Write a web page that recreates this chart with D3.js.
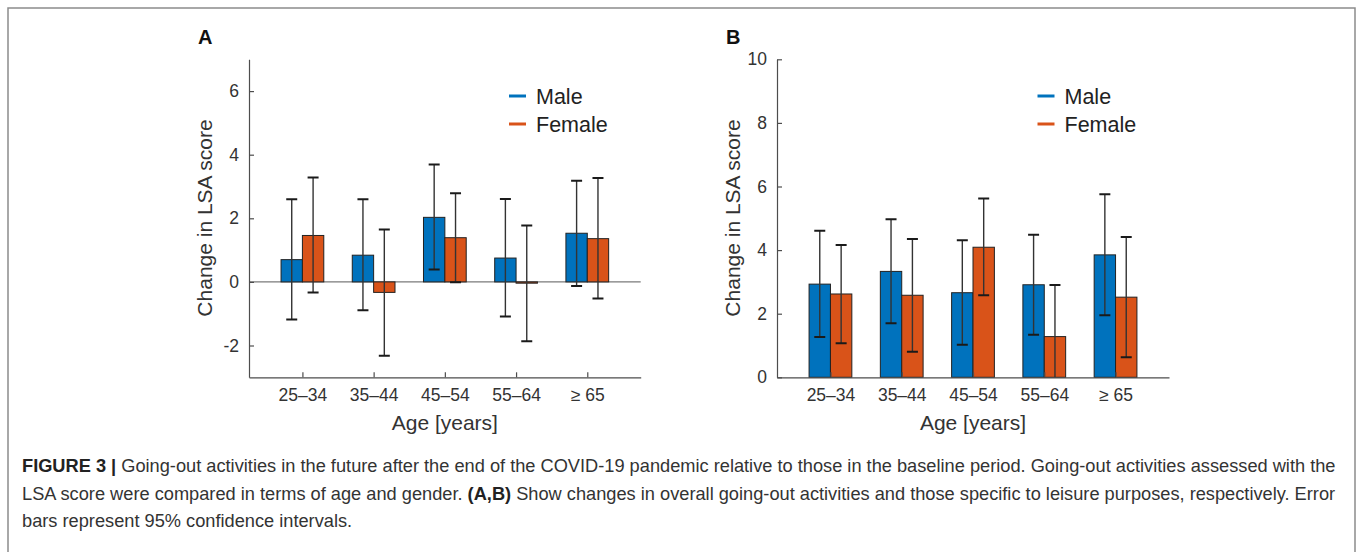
<!DOCTYPE html>
<html>
<head>
<meta charset="utf-8">
<script src="https://cdn.jsdelivr.net/npm/d3@7"></script>
<style>
  body { margin: 0; background: #fff; }
  svg text { font-family: "Liberation Sans", Arial, Helvetica, sans-serif; }
</style>
</head>
<body>
<svg id="fig" width="1357" height="552"></svg>
<script>
// age groups on the x axis
var ageGroups = ["25–34", "35–44", "45–54", "55–64", "≥ 65"];
var seriesNames = ["Male", "Female"];

// panel A: overall going-out activities
var maleA = [0.70, 0.84, 2.03, 0.75, 1.53];
var maleALow = [-1.18, -0.89, 0.39, -1.09, -0.13];
var maleAHigh = [2.60, 2.60, 3.69, 2.61, 3.18];
var femaleA = [1.46, -0.33, 1.39, -0.04, 1.36];
var femaleALow = [-0.33, -2.32, -0.01, -1.87, -0.52];
var femaleAHigh = [3.28, 1.65, 2.79, 1.77, 3.27];
var ticksA = [-2, 0, 2, 4, 6];

// panel B: leisure purposes
var maleB = [2.93, 3.33, 2.66, 2.91, 3.85];
var maleBLow = [1.27, 1.70, 1.02, 1.34, 1.95];
var maleBHigh = [4.61, 4.97, 4.31, 4.48, 5.76];
var femaleB = [2.62, 2.58, 4.09, 1.28, 2.52];
var femaleBLow = [1.07, 0.80, 2.58, -0.34, 0.63];
var femaleBHigh = [4.16, 4.35, 5.62, 2.90, 4.41];
var ticksB = [0, 2, 4, 6, 8, 10];

var colors = ["#0072bd", "#d95319"];
var svg = d3.select("#fig");

// outer frame of the figure
svg.append("path")
  .attr("d", "M8,552 L8,8 L1355,8 L1355,552")
  .attr("fill", "none").attr("stroke", "#8c8c8c").attr("stroke-width", 1.5);

function drawPanel(opt) {
  var x = d3.scaleLinear().domain([0.25, 5.75]).range([opt.left, opt.right]);
  var y = d3.scaleLinear().domain(opt.yDomain).range([377.3, 59.3]);
  var g = svg.append("g");

  var clipId = "clip" + opt.label;
  svg.append("clipPath").attr("id", clipId).append("rect")
    .attr("x", opt.left).attr("y", 59.3)
    .attr("width", opt.right - opt.left).attr("height", 377.3 - 59.3);

  // zero reference line
  if (opt.yDomain[0] < 0) {
    g.append("line")
      .attr("x1", x(0.25)).attr("x2", x(5.75))
      .attr("y1", y(0)).attr("y2", y(0))
      .attr("stroke", "#7a7a7a").attr("stroke-width", 1.2);
  }

  var bw = 0.3;
  var series = [
    {vals: opt.male, lo: opt.maleLow, hi: opt.maleHigh, off: -0.15, c: colors[0]},
    {vals: opt.female, lo: opt.femaleLow, hi: opt.femaleHigh, off: 0.15, c: colors[1]}
  ];

  series.forEach(function(s) {
    g.selectAll(null).data(s.vals).enter().append("rect")
      .attr("x", function(d, i) { return x(i + 1 + s.off - bw / 2); })
      .attr("width", x(bw) - x(0))
      .attr("y", function(d) { return y(Math.max(d, 0)); })
      .attr("height", function(d) { return Math.abs(y(d) - y(0)); })
      .attr("fill", s.c).attr("stroke", "#222").attr("stroke-width", 1);
  });

  series.forEach(function(s) {
    var eb = g.append("g").attr("clip-path", "url(#" + clipId + ")");
    var cap = 5.5;
    s.vals.forEach(function(d, i) {
      var cx = x(i + 1 + s.off);
      eb.append("line")
        .attr("x1", cx).attr("x2", cx)
        .attr("y1", y(s.lo[i])).attr("y2", y(s.hi[i]))
        .attr("stroke", "#333").attr("stroke-width", 1.4);
      [s.lo[i], s.hi[i]].forEach(function(v) {
        eb.append("line")
          .attr("x1", cx - cap).attr("x2", cx + cap)
          .attr("y1", y(v)).attr("y2", y(v))
          .attr("stroke", "#1a1a1a").attr("stroke-width", 2);
      });
    });
  });

  // axes, ticks pointing inward
  var xAxis = g.append("g")
    .attr("transform", "translate(0," + y(opt.yDomain[0]) + ")")
    .call(d3.axisBottom(x).tickValues([1, 2, 3, 4, 5])
      .tickFormat(function(d) { return ageGroups[d - 1]; })
      .tickSizeInner(-5).tickSizeOuter(0).tickPadding(11));
  var yAxis = g.append("g")
    .attr("transform", "translate(" + opt.left + ",0)")
    .call(d3.axisLeft(y).tickValues(opt.ticks)
      .tickFormat(function(d) { return String(d); })
      .tickSizeInner(-5).tickSizeOuter(0).tickPadding(10));

  [xAxis, yAxis].forEach(function(a) {
    a.attr("font-size", null).attr("font-family", null);
    a.select(".domain").attr("stroke", "#4d4d4d").attr("stroke-width", 1.2);
    a.selectAll(".tick line").attr("stroke", "#4d4d4d").attr("stroke-width", 1.2);
    a.selectAll(".tick text").attr("fill", "#333").style("font-size", "17.5px");
  });

  // axis titles
  g.append("text")
    .attr("x", (opt.left + opt.right) / 2).attr("y", 430)
    .attr("text-anchor", "middle").attr("fill", "#333")
    .style("font-size", "21px").text("Age [years]");
  g.append("text")
    .attr("transform", "translate(" + (opt.left - 37) + ",218) rotate(-90)")
    .attr("text-anchor", "middle").attr("fill", "#333")
    .style("font-size", "21px").text("Change in LSA score");

  // panel letter
  g.append("text")
    .attr("x", opt.left - 51).attr("y", 44)
    .attr("fill", "#111").style("font-size", "20px").style("font-weight", "bold")
    .text(opt.label);

  // legend
  seriesNames.forEach(function(n, i) {
    var ly = 96 + i * 28;
    g.append("line")
      .attr("x1", opt.legendX).attr("x2", opt.legendX + 17)
      .attr("y1", ly).attr("y2", ly)
      .attr("stroke", colors[i]).attr("stroke-width", 3);
    g.append("text")
      .attr("x", opt.legendX + 27).attr("y", ly + 7.5)
      .attr("fill", "#222").style("font-size", "21.5px").text(n);
  });
}

drawPanel({
  label: "A", left: 249, right: 640.7, yDomain: [-3, 7], ticks: ticksA,
  male: maleA, maleLow: maleALow, maleHigh: maleAHigh,
  female: femaleA, femaleLow: femaleALow, femaleHigh: femaleAHigh,
  legendX: 509
});
drawPanel({
  label: "B", left: 777, right: 1169, yDomain: [0, 10], ticks: ticksB,
  male: maleB, maleLow: maleBLow, maleHigh: maleBHigh,
  female: femaleB, femaleLow: femaleBLow, femaleHigh: femaleBHigh,
  legendX: 1037.5
});

// figure caption
var caption = [
  [["FIGURE 3 | ", true], ["Going-out activities in the future after the end of the COVID-19 pandemic relative to those in the baseline period. Going-out activities assessed with the", false]],
  [["LSA score were compared in terms of age and gender. ", false], ["(A,B)", true], [" Show changes in overall going-out activities and those specific to leisure purposes, respectively. Error", false]],
  [["bars represent 95% confidence intervals.", false]]
];
var capG = svg.append("g");
var lines = caption.map(function(parts, li) {
  var t = capG.append("text")
    .attr("x", 22).attr("y", 472 + li * 27.5)
    .attr("fill", "#333").style("font-size", "14px");
  parts.forEach(function(p) {
    t.append("tspan").style("font-weight", p[1] ? "bold" : "normal")
      .attr("fill", p[1] ? "#222" : "#333").text(p[0]);
  });
  return t;
});
// fit first line to the measured width and use that size for all lines
var w = lines[0].node().getComputedTextLength();
var fs = 14 * (1337 - 22) / w;
lines.forEach(function(t) { t.style("font-size", fs + "px"); });
</script>
</body>
</html>
